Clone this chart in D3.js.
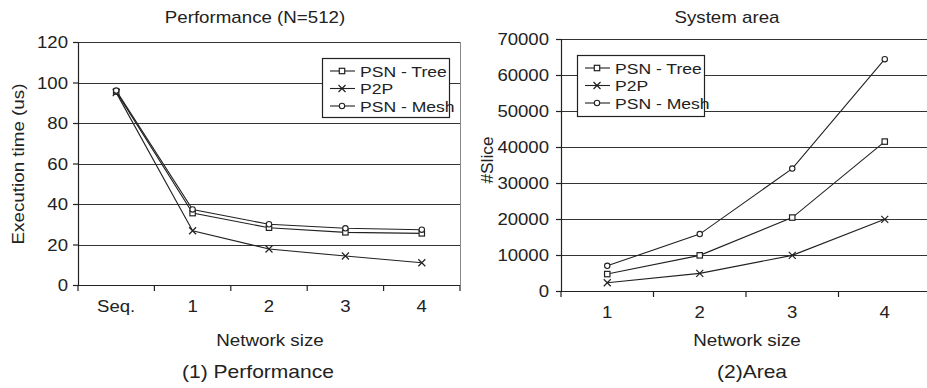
<!DOCTYPE html>
<html><head><meta charset="utf-8">
<script src="https://cdn.jsdelivr.net/npm/d3@7"></script>
<style>body{margin:0;background:#fff}svg{display:block}text{font-family:"Liberation Sans",Arial,sans-serif;fill:#222}</style>
</head><body><svg id="c" width="927" height="388"></svg>
<script>
const perfCats = ["Seq.","1","2","3","4"];
const perfTree = [95.5, 35.5, 28.3, 26, 25.5];
const perfP2P  = [95, 26.8, 17.8, 14.3, 11];
const perfMesh = [96, 37.3, 30, 28, 27.3];
const perfTicks = [0,20,40,60,80,100,120];

const areaCats = ["1","2","3","4"];
const areaTree = [4700, 9900, 20400, 41500];
const areaP2P  = [2300, 4900, 9900, 19900];
const areaMesh = [7000, 15800, 34000, 64400];
const areaTicks = [0,10000,20000,30000,40000,50000,60000,70000];

const seriesNames = ["PSN - Tree","P2P","PSN - Mesh"];
const markers = ["square","x","circle"];
const ink = "#222";
const svg = d3.select("#c");

function stretch(sel, sx){
  sel.each(function(){ const L=this.getComputedTextLength(); d3.select(this).attr("textLength",L*sx).attr("lengthAdjust","spacingAndGlyphs"); });
}

function marker(g, type, x, y){
  if(type==="square") g.append("rect").attr("x",x-2.7).attr("y",y-2.7).attr("width",5.4).attr("height",5.4).attr("fill","#fff").attr("stroke",ink).attr("stroke-width",1.2);
  else if(type==="circle") g.append("circle").attr("cx",x).attr("cy",y).attr("r",2.7).attr("fill","#fff").attr("stroke",ink).attr("stroke-width",1.1);
  else { g.append("path").attr("d",`M${x-3.5},${y-3.5}L${x+3.5},${y+3.5}M${x-3.5},${y+3.5}L${x+3.5},${y-3.5}`).attr("stroke",ink).attr("stroke-width",1.2); }
}

function chart(o){
  const g = svg.append("g");
  const x = d3.scaleBand().domain(o.cats).range([o.x0,o.x1]);
  const y = d3.scaleLinear().domain([0,o.ymax]).range([o.yb,o.yt]);
  g.selectAll(".grid").data(o.ticks.filter(t=>t>0)).join("line")
    .attr("x1",o.x0).attr("x2",o.gx1).attr("y1",d=>Math.round(y(d))+0.5).attr("y2",d=>Math.round(y(d))+0.5)
    .attr("stroke","#333").attr("stroke-width",1.2);
  if(o.rightBorder) g.append("line").attr("x1",o.gx1+0.5).attr("x2",o.gx1+0.5).attr("y1",o.yt).attr("y2",o.yb).attr("stroke","#888").attr("stroke-width",1);
  const ya = g.append("g").attr("transform",`translate(${o.x0},0)`).call(d3.axisLeft(y).tickValues(o.ticks).tickSize(5).tickPadding(o.ypad).tickFormat(d3.format("d")));
  ya.select(".domain").attr("stroke",ink).attr("stroke-width",1.2);
  ya.selectAll(".tick line").attr("stroke",ink).attr("stroke-width",1.2);
  const yt = ya.selectAll("text").attr("font-size",o.tickFs).attr("fill",ink).attr("font-family","Liberation Sans, Arial, sans-serif").attr("dy","0.36em");
  stretch(yt, o.tickSx);
  const cx = c=>x(c)+x.bandwidth()/2;
  const xt = g.selectAll(".xl").data(o.cats).join("text").attr("x",cx).attr("y",o.yb+27).attr("text-anchor","middle").attr("font-size",o.tickFs).text(d=>d);
  stretch(xt, o.tickSx);
  g.append("line").attr("x1",o.x0-5).attr("x2",o.gx1).attr("y1",o.yb+0.5).attr("y2",o.yb+0.5).attr("stroke",ink).attr("stroke-width",1.2);
  const edges = o.cats.map(c=>x(c)).concat([x(o.cats[o.cats.length-1])+x.bandwidth()]);
  g.selectAll(".xt").data(edges.filter(e=>e<=926)).join("line")
    .attr("x1",d=>d).attr("x2",d=>d).attr("y1",o.yb).attr("y2",o.yb+6).attr("stroke",ink).attr("stroke-width",1.2);
  o.series.forEach((s,i)=>{
    const line = d3.line().x((d,j)=>cx(o.cats[j])).y(d=>y(d));
    g.append("path").attr("d",line(s)).attr("fill","none").attr("stroke",ink).attr("stroke-width",1.1);
  });
  o.series.forEach((s,i)=>{ s.forEach((v,j)=>marker(g,markers[i],cx(o.cats[j]),y(v))); });
  stretch(g.append("text").attr("x",o.titleX).attr("y",23).attr("text-anchor","middle").attr("font-size",17).text(o.title), 1.1);
  stretch(g.append("text").attr("transform",`translate(${o.ylabX},${o.ylabY}) rotate(-90)`).attr("text-anchor","middle").attr("font-size",16.5).text(o.ylab), o.ylabSx);
  stretch(g.append("text").attr("x",o.xlabX).attr("y",346).attr("text-anchor","middle").attr("font-size",16.8).text("Network size"), 1.12);
  stretch(g.append("text").attr("x",o.capX).attr("y",378).attr("text-anchor","middle").attr("font-size",18.6).text(o.caption), 1.13);
  const L = o.legend;
  const lg = g.append("g");
  lg.append("rect").attr("x",L.x+0.5).attr("y",L.y+0.5).attr("width",L.w).attr("height",L.h).attr("fill","#fff").attr("stroke",ink).attr("stroke-width",1.2);
  seriesNames.forEach((n,i)=>{
    const yy = L.y + 13 + i*17.5;
    lg.append("line").attr("x1",L.x+8).attr("x2",L.x+33).attr("y1",yy).attr("y2",yy).attr("stroke",ink).attr("stroke-width",1.1);
    marker(lg,markers[i],L.x+20,yy);
    stretch(lg.append("text").attr("x",L.x+38).attr("y",yy+5.5).attr("font-size",15).text(n), 1.17);
  });
}

chart({cats:perfCats, series:[perfTree,perfP2P,perfMesh], ticks:perfTicks, ymax:120,
  x0:78, x1:460, gx1:460, yt:42, yb:285, rightBorder:true, tickFs:16, tickSx:1.16, ypad:5,
  title:"Performance (N=512)", titleX:255, ylab:"Execution time (us)", ylabX:24, ylabY:164, ylabSx:1.14,
  xlabX:270, capX:258, caption:"(1) Performance", legend:{x:322,y:58,w:127,h:59}});

chart({cats:areaCats, series:[areaTree,areaP2P,areaMesh], ticks:areaTicks, ymax:70000,
  x0:561, x1:931, gx1:927, yt:39, yb:291, rightBorder:false, tickFs:16.3, tickSx:1.14, ypad:7,
  title:"System area", titleX:727, ylab:"#Slice", ylabX:493, ylabY:160, ylabSx:1.05,
  xlabX:747, capX:752, caption:"(2)Area", legend:{x:577,y:55,w:127,h:61}});
</script></body></html>
